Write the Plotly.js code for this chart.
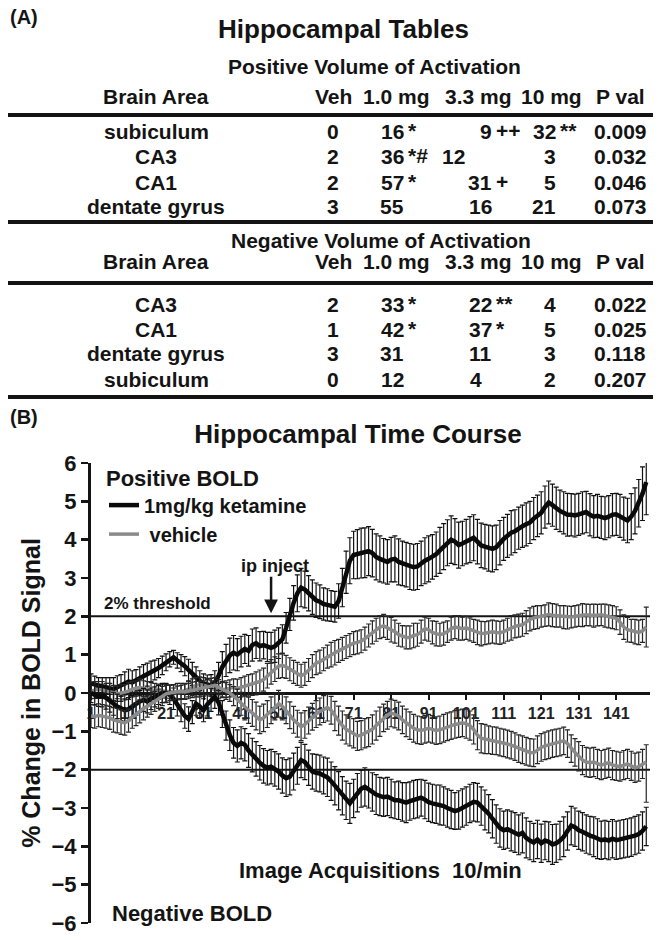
<!DOCTYPE html>
<html>
<head>
<meta charset="utf-8">
<script src="https://cdn.plot.ly/plotly-3.0.1.min.js"></script>
<style>
  html, body { margin: 0; padding: 0; background: #fff; }
  #chart { width: 665px; height: 940px; }
</style>
</head>
<body>
<div id="chart"></div>
<script>
// ---- (A) Hippocampal tables ----
const tableHeader = ['Brain Area', 'Veh', '1.0 mg', '3.3 mg', '10 mg', 'P val'];

const posAreas = ['subiculum', 'CA3', 'CA1', 'dentate gyrus'];
const posVolVeh = [0, 2, 2, 3];
const pos1mg = [16, 36, 57, 55];
const pos1mgSig = ['*', '*#', '*', ''];
const pos33mg = [9, 12, 31, 16];
const pos33mgSig = ['++', '', '+', ''];
const pos10mg = [32, 3, 5, 21];
const pos10mgSig = ['**', '', '', ''];
const posP = ['0.009', '0.032', '0.046', '0.073'];

const negAreas = ['CA3', 'CA1', 'dentate gyrus', 'subiculum'];
const negVolVeh = [2, 1, 3, 0];
const neg1mg = [33, 42, 31, 12];
const neg1mgSig = ['*', '*', '', ''];
const neg33mg = [22, 37, 11, 4];
const neg33mgSig = ['**', '*', '', ''];
const neg10mg = [4, 5, 3, 2];
const neg10mgSig = ['', '', '', ''];
const negP = ['0.022', '0.025', '0.118', '0.207'];

// ---- (B) Hippocampal time course (% change, one value per acquisition) ----
const posKet = [0.25,0.22,0.2,0.18,0.15,0.12,0.1,0.15,0.2,0.25,
  0.3,0.28,0.33,0.38,0.42,0.48,0.55,0.6,0.65,0.72,
  0.8,0.88,0.93,0.85,0.78,0.7,0.6,0.5,0.4,0.32,
  0.25,0.22,0.2,0.28,0.45,0.68,0.85,0.98,1.05,1.0,
  1.08,1.15,1.1,1.25,1.3,1.22,1.25,1.2,1.18,1.22,
  1.3,1.4,1.7,2.05,2.35,2.6,2.75,2.7,2.6,2.5,
  2.42,2.38,2.32,2.3,2.27,2.25,2.4,2.75,3.15,3.45,
  3.6,3.62,3.65,3.66,3.7,3.65,3.55,3.5,3.45,3.42,
  3.48,3.5,3.42,3.38,3.35,3.3,3.28,3.3,3.38,3.45,
  3.5,3.55,3.62,3.72,3.82,3.92,4.0,3.95,3.86,3.9,
  3.95,4.0,4.05,3.95,3.85,3.82,3.78,3.76,3.8,3.92,
  4.02,4.1,4.18,4.22,4.3,4.35,4.4,4.45,4.55,4.62,
  4.7,4.85,4.97,4.9,4.82,4.75,4.7,4.65,4.65,4.63,
  4.66,4.7,4.72,4.65,4.6,4.62,4.58,4.56,4.6,4.65,
  4.66,4.62,4.55,4.5,4.6,4.75,4.95,5.2,5.5];
const posKetErr = [0.25,0.22,0.2,0.22,0.25,0.28,0.3,0.3,0.28,0.3,
  0.32,0.3,0.28,0.3,0.32,0.3,0.28,0.26,0.25,0.24,
  0.22,0.2,0.18,0.2,0.22,0.25,0.28,0.3,0.28,0.26,
  0.25,0.25,0.28,0.3,0.35,0.4,0.42,0.45,0.45,0.42,
  0.4,0.38,0.4,0.42,0.4,0.38,0.36,0.38,0.4,0.42,
  0.4,0.38,0.4,0.42,0.45,0.48,0.5,0.48,0.46,0.45,
  0.45,0.44,0.42,0.42,0.4,0.4,0.45,0.5,0.55,0.6,
  0.62,0.64,0.65,0.65,0.64,0.62,0.6,0.6,0.58,0.58,
  0.58,0.6,0.6,0.58,0.58,0.6,0.6,0.6,0.58,0.6,
  0.6,0.58,0.58,0.6,0.6,0.6,0.62,0.6,0.6,0.58,
  0.58,0.6,0.6,0.58,0.58,0.58,0.6,0.6,0.58,0.58,
  0.56,0.56,0.58,0.56,0.55,0.55,0.56,0.55,0.55,0.54,
  0.55,0.55,0.56,0.55,0.55,0.54,0.55,0.56,0.55,0.56,
  0.55,0.55,0.54,0.55,0.55,0.56,0.55,0.56,0.55,0.55,
  0.55,0.56,0.56,0.58,0.6,0.6,0.62,0.7,0.85];

const posVeh = [0.05,0.08,0.1,0.08,0.05,0.03,0.0,-0.02,0.0,0.02,
  0.05,0.1,0.12,0.15,0.12,0.1,0.08,0.05,0.03,0.05,
  0.05,0.03,0.02,0.0,0.02,0.05,0.1,0.15,0.2,0.22,
  0.2,0.18,0.12,0.08,0.05,0.08,0.1,0.12,0.15,0.12,
  0.15,0.18,0.2,0.22,0.25,0.3,0.35,0.45,0.55,0.62,
  0.7,0.72,0.68,0.62,0.55,0.5,0.45,0.5,0.6,0.7,
  0.78,0.82,0.88,0.95,1.0,1.05,1.1,1.15,1.2,1.25,
  1.3,1.32,1.35,1.42,1.5,1.58,1.65,1.72,1.75,1.7,
  1.65,1.6,1.52,1.48,1.45,1.45,1.5,1.52,1.6,1.68,
  1.65,1.58,1.55,1.52,1.55,1.6,1.68,1.72,1.7,1.68,
  1.7,1.66,1.62,1.58,1.55,1.56,1.58,1.6,1.58,1.57,
  1.6,1.65,1.7,1.74,1.76,1.78,1.85,1.92,1.96,1.98,
  2.0,2.02,2.05,2.03,2.02,2.0,1.98,1.97,1.98,2.0,
  2.02,2.03,2.04,2.03,2.02,2.03,2.04,2.02,2.0,1.98,
  1.95,1.85,1.72,1.65,1.62,1.6,1.58,1.62,1.72];
const posVehErr = [0.2,0.22,0.2,0.22,0.2,0.22,0.2,0.2,0.22,0.2,
  0.22,0.2,0.2,0.22,0.2,0.2,0.22,0.2,0.2,0.18,
  0.18,0.18,0.2,0.18,0.18,0.2,0.2,0.22,0.2,0.2,
  0.2,0.2,0.2,0.18,0.2,0.2,0.22,0.22,0.22,0.24,
  0.25,0.26,0.28,0.28,0.3,0.3,0.3,0.32,0.32,0.32,
  0.32,0.32,0.3,0.3,0.3,0.3,0.3,0.3,0.3,0.3,
  0.3,0.3,0.3,0.3,0.32,0.32,0.3,0.3,0.3,0.3,
  0.3,0.3,0.3,0.3,0.3,0.3,0.3,0.3,0.3,0.3,
  0.32,0.3,0.3,0.28,0.3,0.3,0.32,0.3,0.3,0.3,
  0.3,0.3,0.32,0.3,0.3,0.28,0.3,0.3,0.32,0.3,
  0.3,0.3,0.3,0.32,0.32,0.3,0.3,0.3,0.3,0.3,
  0.3,0.3,0.32,0.3,0.3,0.3,0.3,0.3,0.3,0.3,
  0.28,0.28,0.3,0.3,0.3,0.28,0.3,0.3,0.28,0.28,
  0.28,0.3,0.28,0.28,0.3,0.28,0.28,0.3,0.3,0.3,
  0.3,0.32,0.32,0.32,0.3,0.32,0.32,0.3,0.52];

const negKet = [0.0,-0.05,-0.1,-0.08,-0.12,-0.2,-0.28,-0.35,-0.4,-0.45,
  -0.42,-0.35,-0.3,-0.22,-0.18,-0.22,-0.15,-0.1,-0.05,0.0,
  0.0,-0.05,-0.15,-0.3,-0.45,-0.6,-0.68,-0.5,-0.28,-0.35,
  -0.45,-0.3,-0.18,-0.1,-0.25,-0.55,-0.85,-1.1,-1.3,-1.38,
  -1.3,-1.35,-1.5,-1.62,-1.72,-1.82,-1.9,-1.95,-1.92,-1.98,
  -2.05,-2.15,-2.22,-2.18,-2.05,-1.9,-1.75,-1.8,-1.95,-2.05,
  -2.08,-2.1,-2.15,-2.2,-2.3,-2.42,-2.55,-2.68,-2.8,-2.88,
  -2.75,-2.6,-2.5,-2.45,-2.5,-2.58,-2.65,-2.7,-2.72,-2.7,
  -2.75,-2.8,-2.8,-2.84,-2.86,-2.82,-2.78,-2.76,-2.73,-2.78,
  -2.85,-2.88,-2.9,-2.92,-2.95,-3.0,-3.04,-3.08,-3.05,-3.0,
  -2.95,-2.88,-2.84,-2.86,-2.95,-3.05,-3.15,-3.28,-3.42,-3.52,
  -3.58,-3.55,-3.6,-3.64,-3.7,-3.65,-3.78,-3.85,-3.9,-3.82,
  -3.92,-3.85,-3.88,-3.95,-3.92,-3.85,-3.75,-3.6,-3.46,-3.5,
  -3.58,-3.62,-3.68,-3.72,-3.75,-3.8,-3.84,-3.82,-3.85,-3.8,
  -3.84,-3.82,-3.8,-3.78,-3.76,-3.72,-3.68,-3.6,-3.48];
const negKetErr = [0.25,0.25,0.25,0.28,0.3,0.3,0.3,0.32,0.32,0.3,
  0.3,0.28,0.28,0.28,0.3,0.3,0.28,0.26,0.25,0.25,
  0.25,0.25,0.28,0.3,0.3,0.32,0.32,0.3,0.3,0.3,
  0.3,0.3,0.3,0.3,0.32,0.35,0.38,0.4,0.4,0.42,
  0.42,0.42,0.44,0.44,0.45,0.45,0.45,0.45,0.45,0.45,
  0.46,0.46,0.48,0.48,0.48,0.48,0.46,0.46,0.46,0.46,
  0.48,0.48,0.48,0.5,0.5,0.5,0.5,0.5,0.5,0.52,
  0.5,0.5,0.48,0.5,0.5,0.5,0.52,0.5,0.5,0.5,
  0.5,0.48,0.5,0.5,0.52,0.5,0.5,0.5,0.48,0.5,
  0.5,0.5,0.5,0.52,0.5,0.5,0.5,0.48,0.5,0.5,
  0.5,0.5,0.5,0.5,0.5,0.52,0.5,0.5,0.5,0.5,
  0.5,0.5,0.52,0.52,0.52,0.52,0.52,0.5,0.5,0.5,
  0.5,0.5,0.52,0.52,0.5,0.5,0.52,0.5,0.5,0.5,
  0.5,0.5,0.5,0.5,0.52,0.52,0.5,0.5,0.5,0.5,
  0.5,0.5,0.5,0.5,0.5,0.5,0.5,0.5,0.5];

const negVeh = [-0.6,-0.62,-0.58,-0.6,-0.62,-0.65,-0.7,-0.72,-0.76,-0.78,
  -0.72,-0.62,-0.55,-0.48,-0.4,-0.35,-0.28,-0.22,-0.15,-0.08,
  -0.02,0.0,0.02,0.05,0.05,0.03,0.05,0.08,0.1,0.1,
  0.12,0.15,0.18,0.2,0.15,0.1,0.05,0.0,-0.08,-0.18,
  -0.28,-0.38,-0.45,-0.52,-0.6,-0.7,-0.65,-0.55,-0.45,-0.35,
  -0.28,-0.35,-0.45,-0.58,-0.7,-0.8,-0.88,-0.82,-0.72,-0.62,
  -0.55,-0.48,-0.42,-0.38,-0.45,-0.6,-0.72,-0.85,-0.95,-1.0,
  -1.05,-1.12,-1.1,-1.05,-1.02,-0.95,-0.85,-0.75,-0.65,-0.58,
  -0.52,-0.55,-0.6,-0.7,-0.78,-0.85,-0.92,-0.96,-0.98,-0.95,
  -0.92,-0.95,-0.98,-0.96,-0.92,-0.88,-0.85,-0.82,-0.8,-0.78,
  -0.8,-0.85,-0.95,-1.1,-1.18,-1.2,-1.22,-1.24,-1.25,-1.28,
  -1.3,-1.33,-1.36,-1.4,-1.45,-1.48,-1.52,-1.55,-1.56,-1.48,
  -1.42,-1.38,-1.35,-1.32,-1.3,-1.28,-1.25,-1.32,-1.45,-1.55,
  -1.65,-1.75,-1.8,-1.82,-1.8,-1.85,-1.88,-1.85,-1.82,-1.88,
  -1.9,-1.92,-1.88,-1.85,-1.9,-1.95,-1.92,-1.85,-1.8];
const negVehErr = [0.3,0.3,0.3,0.3,0.3,0.3,0.32,0.32,0.32,0.32,
  0.3,0.3,0.3,0.3,0.3,0.28,0.28,0.26,0.25,0.25,
  0.22,0.2,0.2,0.2,0.2,0.2,0.2,0.2,0.2,0.2,
  0.2,0.2,0.2,0.2,0.2,0.2,0.22,0.22,0.25,0.28,
  0.3,0.32,0.34,0.35,0.36,0.36,0.36,0.35,0.35,0.35,
  0.35,0.35,0.35,0.35,0.35,0.35,0.36,0.36,0.35,0.35,
  0.35,0.35,0.35,0.35,0.36,0.38,0.38,0.38,0.38,0.38,
  0.38,0.38,0.38,0.38,0.38,0.38,0.38,0.38,0.36,0.36,
  0.36,0.36,0.36,0.36,0.36,0.36,0.36,0.36,0.36,0.36,
  0.36,0.36,0.36,0.36,0.36,0.36,0.36,0.36,0.36,0.36,
  0.38,0.38,0.38,0.38,0.38,0.38,0.36,0.36,0.36,0.36,
  0.36,0.36,0.36,0.36,0.36,0.36,0.36,0.36,0.36,0.36,
  0.36,0.36,0.36,0.36,0.36,0.36,0.36,0.36,0.36,0.36,
  0.38,0.38,0.38,0.38,0.38,0.38,0.38,0.38,0.38,0.38,
  0.38,0.38,0.38,0.38,0.38,0.38,0.38,0.38,0.45];
// last vehicle point has a long lower bar
const negVehErrLow = negVehErr.slice(0, -1).concat([1.05]);

const xTicks = [1, 11, 21, 31, 41, 51, 61, 71, 81, 91, 101, 111, 121, 131, 141];
const yTicks = [-6, -5, -4, -3, -2, -1, 0, 1, 2, 3, 4, 5, 6];
const thresholds = [2, -2];
const injectAt = 49;

const acq = [];
for (let i = 1; i <= posKet.length; i++) acq.push(i);

// ---- page geometry (pixels of the 665x940 figure) ----
const W = 665, H = 940;
const px = v => v / W;
const py = v => 1 - v / H;
const FONT = 'Liberation Sans, Arial, Helvetica, sans-serif';
const INK = '#141414';
const GREY = '#8a8a8a';

const yDomain = [py(923), py(463)];
const zeroPos = (yDomain[0] + yDomain[1]) / 2;

function txt(text, x, y, size, anchor, extra) {
    return Object.assign({
        text: '<b>' + text + '</b>',
        xref: 'paper', yref: 'paper',
        x: px(x), y: py(y),
        xanchor: anchor || 'center', yanchor: 'middle',
        showarrow: false,
        font: { family: FONT, size: size, color: INK }
    }, extra || {});
}

const annotations = [];
const shapes = [];

// table titles
annotations.push(txt('(A)', 8, 17, 20, 'left'));
annotations.push(txt('Hippocampal Tables', 343, 29, 26));
annotations.push(txt('Positive Volume of Activation', 374, 67, 21));
annotations.push(txt('Negative Volume of Activation', 381, 241, 21));

const headX = [156, 333, 396, 478, 551, 620];
[97, 261].forEach(y => {
    tableHeader.forEach((h, i) => annotations.push(txt(h, headX[i], y, 21)));
});

[115, 222, 283, 397].forEach(y => {
    shapes.push({
        type: 'line', xref: 'paper', yref: 'paper',
        x0: px(8), x1: px(653), y0: py(y), y1: py(y),
        line: { color: INK, width: 4 }
    });
});

// small nudges where a value sits off its column
const cellShift = { 'pos-1-d33': -27, 'neg-3-d33': -10 };

function numCell(v, sig, right, y, key) {
    const r = right + (cellShift[key] || 0);
    annotations.push(txt(String(v), r, y, 21, 'right'));
    if (sig) annotations.push(txt(sig, r, y, 21, 'left', { yshift: 1 }));
}

function tableBlock(tag, areas, veh, d1, d1s, d33, d33s, d10, d10s, pv, rowsY) {
    areas.forEach((a, i) => {
        const y = rowsY[i];
        annotations.push(txt(a, 156, y, 21));
        annotations.push(txt(String(veh[i]), 333, y, 21));
        numCell(d1[i], d1s[i], 406, y, tag + '-' + i + '-d1');
        numCell(d33[i], d33s[i], 494, y, tag + '-' + i + '-d33');
        numCell(d10[i], d10s[i], 558, y, tag + '-' + i + '-d10');
        annotations.push(txt(pv[i], 620, y, 21));
    });
}

tableBlock('pos', posAreas, posVolVeh, pos1mg, pos1mgSig, pos33mg, pos33mgSig,
    pos10mg, pos10mgSig, posP, [132, 157, 182, 206]);
tableBlock('neg', negAreas, negVolVeh, neg1mg, neg1mgSig, neg33mg, neg33mgSig,
    neg10mg, neg10mgSig, negP, [304, 329, 354, 379]);

// chart labels
annotations.push(txt('(B)', 8, 417, 20, 'left'));
annotations.push(txt('ip inject', 275, 566, 18));
annotations.push({
    x: injectAt, y: thresholds[0] + 0.08, xref: 'x', yref: 'y',
    text: '', showarrow: true, ax: 0, ay: -38,
    arrowhead: 2, arrowsize: 1.1, arrowwidth: 2.5, arrowcolor: INK
});
annotations.push(txt('2% threshold', 102, 603, 17, 'left'));
annotations.push(txt('Image Acquisitions\u00a0\u00a010/min', 380, 870, 22));
annotations.push(txt('Negative BOLD', 110, 913, 22, 'left'));

thresholds.forEach(t => {
    shapes.push({
        type: 'line', xref: 'x', yref: 'y', layer: 'below',
        x0: 1, x1: 150, y0: t, y1: t,
        line: { color: INK, width: 2 }
    });
});

function series(y, err, errLow, color, width, barColor, name, show) {
    const e = { type: 'data', array: err, visible: true, color: barColor, thickness: 1.2, width: 2.5 };
    if (errLow) { e.symmetric = false; e.arrayminus = errLow; }
    return {
        x: acq, y: y, type: 'scatter', mode: 'lines',
        line: { color: color, width: width },
        error_y: e,
        name: name, legendgroup: name, showlegend: show,
        hoverinfo: 'skip'
    };
}

const traces = [
    series(posKet, posKetErr, null, '#0a0a0a', 4.5, '#111', '1mg/kg ketamine', true),
    series(posVeh, posVehErr, null, GREY, 3.5, '#262626', ' vehicle', true),
    series(negKet, negKetErr, null, '#0a0a0a', 4.5, '#111', '1mg/kg ketamine', false),
    series(negVeh, negVehErr, negVehErrLow, GREY, 3.5, '#262626', ' vehicle', false)
];

const layout = {
    width: W, height: H,
    margin: { l: 0, r: 0, t: 0, b: 0 },
    paper_bgcolor: '#fff', plot_bgcolor: 'rgba(0,0,0,0)',
    font: { family: FONT, color: INK },
    title: {
        text: '<b>Hippocampal Time Course</b>',
        font: { family: FONT, size: 26, color: INK },
        xref: 'container', yref: 'container',
        x: px(358), y: py(434), xanchor: 'center', yanchor: 'middle'
    },
    xaxis: {
        domain: [px(91), px(650)],
        range: [1, 150],
        anchor: 'free', position: zeroPos,
        tickvals: xTicks,
        ticks: 'outside', ticklen: 5, tickwidth: 2, tickcolor: INK,
        showline: true, linewidth: 2.5, linecolor: INK,
        showgrid: false, zeroline: false,
        tickfont: { family: FONT, size: 16, color: '#222', weight: 'bold' },
        layer: 'below traces',
        fixedrange: true
    },
    xaxis2: {
        domain: [px(91), px(650)],
        overlaying: 'x', matches: 'x',
        anchor: 'free', position: zeroPos,
        tickvals: xTicks,
        ticks: 'inside', ticklen: 5, tickwidth: 2, tickcolor: INK,
        showticklabels: false, showline: false,
        showgrid: false, zeroline: false,
        layer: 'below traces'
    },
    yaxis: {
        domain: yDomain,
        range: [-6, 6],
        tickvals: yTicks,
        ticks: 'outside', ticklen: 7, tickwidth: 2.5, tickcolor: INK,
        showline: true, linewidth: 3, linecolor: INK,
        showgrid: false, zeroline: false,
        tickfont: { family: FONT, size: 22, color: INK, weight: 'bold' },
        title: {
            text: '<b>% Change in BOLD Signal</b>',
            font: { family: FONT, size: 25, color: INK },
            standoff: 4
        },
        automargin: false,
        fixedrange: true
    },
    showlegend: true,
    legend: {
        x: px(104), y: py(457), xanchor: 'left', yanchor: 'top',
        bgcolor: 'rgba(0,0,0,0)',
        title: { text: '<b>Positive BOLD</b>', font: { family: FONT, size: 22, color: INK } },
        font: { family: FONT, size: 20, color: INK, weight: 'bold' },
        itemwidth: 30, tracegroupgap: 0
    },
    shapes: shapes,
    annotations: annotations
};

Plotly.newPlot('chart', traces, layout, { displayModeBar: false, staticPlot: true });
</script>
</body>
</html>
